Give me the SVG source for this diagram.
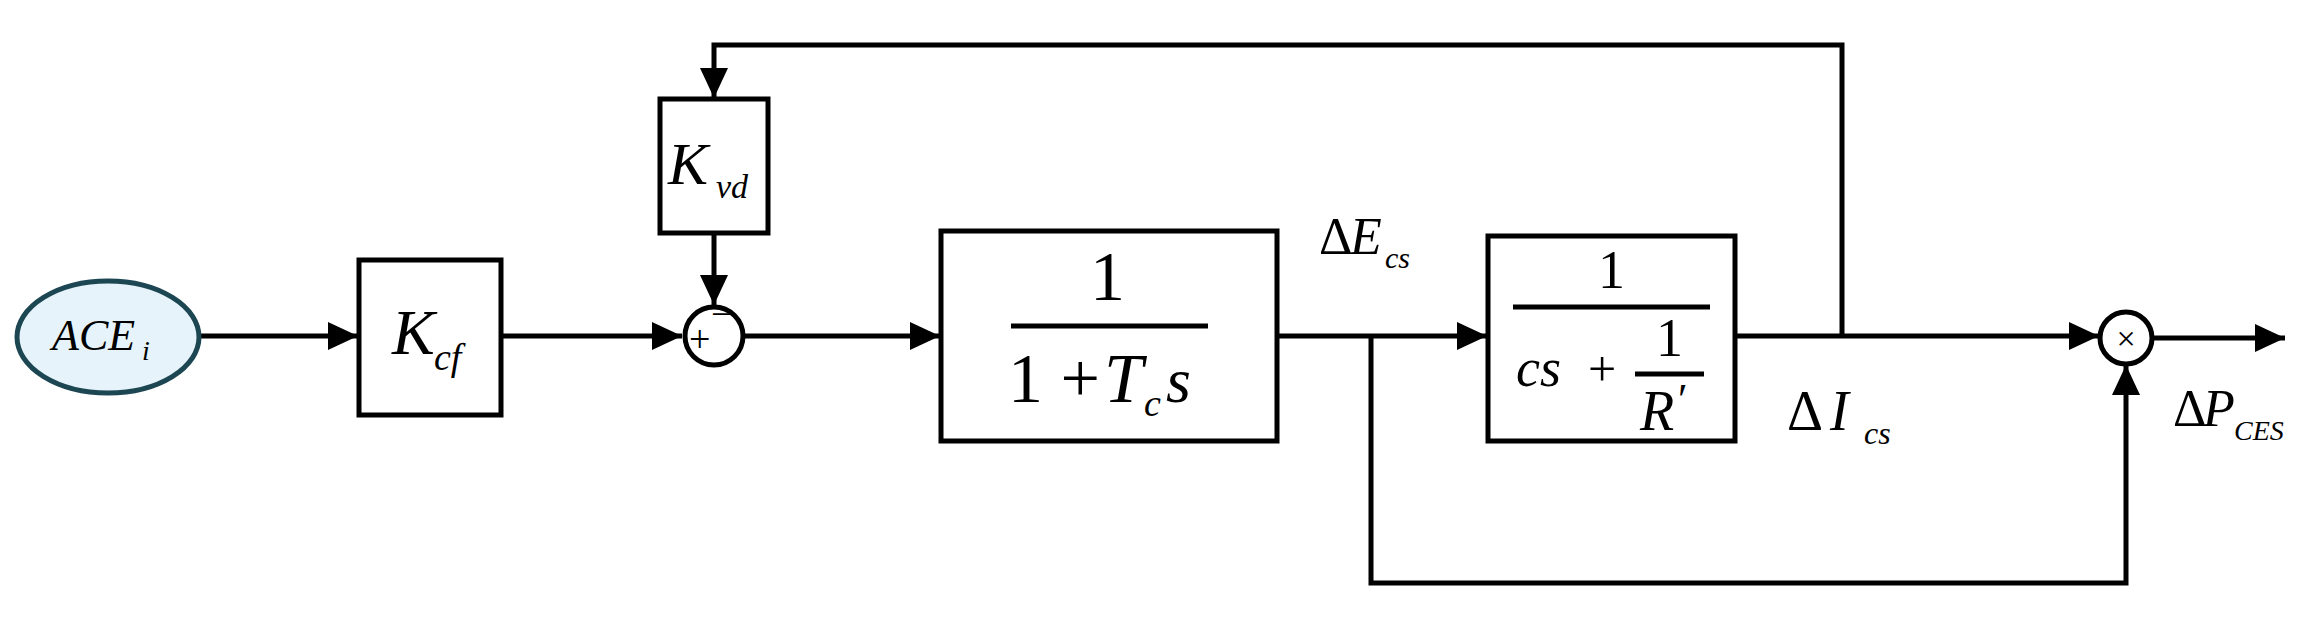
<svg xmlns="http://www.w3.org/2000/svg" width="2311" height="624" viewBox="0 0 2311 624">
<style>
.b{fill:#fff;stroke:#000;stroke-width:5}
.l{fill:none;stroke:#000;stroke-width:5}
.t{font-family:"Liberation Serif",serif;font-style:italic;fill:#000}
.n{font-family:"Liberation Serif",serif;fill:#000}
</style>
<defs>
<marker id="a" markerUnits="userSpaceOnUse" markerWidth="30" markerHeight="28" refX="30" refY="14" orient="auto"><path d="M0,0L30,14L0,28Z" fill="#000"/></marker>
</defs>
<rect width="2311" height="624" fill="#fff"/>
<g id="connectors">
<path class="l" d="M199,336H358" marker-end="url(#a)"/>
<path class="l" d="M501,336H682" marker-end="url(#a)"/>
<path class="l" d="M714,233V305" marker-end="url(#a)"/>
<path class="l" d="M744,336H940" marker-end="url(#a)"/>
<path class="l" d="M1277,336H1487" marker-end="url(#a)"/>
<path class="l" d="M1735,336H2099" marker-end="url(#a)"/>
<path class="l" d="M1842,336V45H714V98" marker-end="url(#a)"/>
<path class="l" d="M1371,336V583H2126V365" marker-end="url(#a)"/>
<path class="l" d="M2152,338H2285" marker-end="url(#a)"/>
</g>
<g id="ace"><ellipse cx="108" cy="337" rx="91" ry="56" fill="#e6f3fa" stroke="#1c4652" stroke-width="5"/><text class="t" x="52" y="350" font-size="44">ACE</text><text class="t" x="142" y="360" font-size="28">i</text></g>
<g id="kcf"><rect class="b" x="359" y="260" width="142" height="155"/><text class="t" x="392" y="354" font-size="64">K</text><text class="t" x="434" y="370" font-size="38">cf</text></g>
<g id="kvd"><rect class="b" x="660" y="99" width="108" height="134"/><text class="t" x="668" y="184" font-size="60">K</text><text class="t" x="716" y="198" font-size="34">vd</text></g>
<g id="sum"><circle class="b" cx="714" cy="336" r="29"/><text class="n" x="689" y="352" font-size="38">+</text><text class="n" x="711" y="327" font-size="38">−</text></g>
<g id="g1"><rect class="b" x="941" y="231" width="336" height="210"/><text class="n" x="1090" y="300" font-size="70">1</text><path class="l" d="M1011,326H1208" stroke-width="3"/><text class="n" x="1008" y="402" font-size="70">1 + </text><text class="t" x="1104" y="402" font-size="70">T</text><text class="t" x="1144" y="416" font-size="38">c</text><text class="t" x="1166" y="402" font-size="64">s</text></g>
<text class="n" x="1319" y="254" font-size="52">Δ</text><text class="t" x="1350" y="254" font-size="52">E</text><text class="t" x="1385" y="268" font-size="30">cs</text>
<g id="g2"><rect class="b" x="1488" y="236" width="247" height="205"/><text class="n" x="1598" y="288" font-size="54">1</text><path class="l" d="M1513,307H1710" stroke-width="3"/><text class="t" x="1516" y="386" font-size="54">cs</text><text class="n" x="1588" y="386" font-size="50">+</text><text class="n" x="1656" y="356" font-size="54">1</text><path class="l" d="M1635,374H1704" stroke-width="3"/><text class="t" x="1640" y="430" font-size="56">R</text><text class="n" x="1678" y="414" font-size="44">′</text></g>
<text class="n" x="1787" y="430" font-size="56">Δ</text><text class="t" x="1830" y="430" font-size="56">I</text><text class="t" x="1864" y="444" font-size="32">cs</text>
<g id="mul"><circle class="b" cx="2126" cy="338" r="26"/><text class="n" x="2126" y="350" font-size="34" text-anchor="middle">×</text></g>
<text class="n" x="2173" y="426" font-size="52">Δ</text><text class="t" x="2203" y="426" font-size="52">P</text><text class="t" x="2234" y="440" font-size="28">CES</text>
</svg>
